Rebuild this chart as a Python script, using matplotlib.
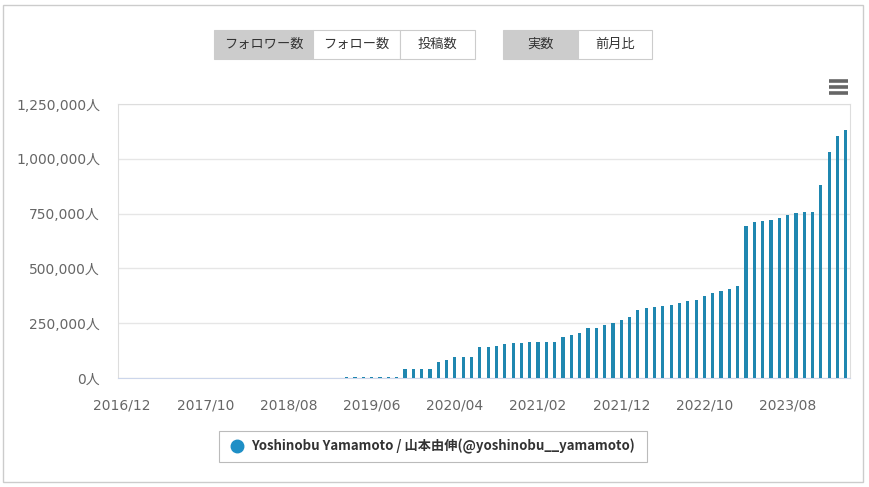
import matplotlib
matplotlib.use("Agg")
import matplotlib.pyplot as plt
from matplotlib.patches import Rectangle
from matplotlib.lines import Line2D
import numpy as np

plt.rcParams["font.family"] = ["Noto Sans CJK JP", "DejaVu Sans"]
TICK_FONT = ["DejaVu Sans", "Noto Sans CJK JP"]

# monthly follower counts, 2016/12 .. 2024/03
months = [f"{2016 + (11 + i) // 12}/{(11 + i) % 12 + 1:02d}" for i in range(88)]
followers = [
    0, 0, 0, 0, 0, 0, 0, 0, 0, 0, 0, 0, 0, 0, 0, 0,
    1000, 1000, 1000, 1500, 1500, 1500, 2000, 2000, 2000,
    2000, 2000, 2500, 2500, 2500, 2500, 3000, 3000, 3000,
    42000, 42000, 42000, 42000, 75000, 80000, 94000, 94000, 94000,
    141000, 141000, 146000, 154000, 158000, 158000, 162000, 162000,
    162000, 162000, 187000, 194000, 204000, 229000, 229000, 244000,
    249000, 265000, 280000, 308000, 319000, 324000, 329000, 335000,
    343000, 349000, 354000, 375000, 386000, 396000, 405000, 421000,
    693000, 711000, 716000, 721000, 731000, 742000, 751000, 757000,
    757000, 880000, 1032000, 1102000, 1132000,
]
yticks = [0, 250000, 500000, 750000, 1000000, 1250000]
series_label = "Yoshinobu Yamamoto / 山本由伸(@yoshinobu__yamamoto)"
group1 = ["フォロワー数", "フォロー数", "投稿数"]
group2 = ["実数", "前月比"]

W, H = 870, 487
fig = plt.figure(figsize=(W / 100, H / 100), dpi=100)
ax = fig.add_axes([118 / W, 1 - 378 / H, (850 - 118) / W, (378 - 104) / H])

x = np.arange(len(months))
ax.bar(x, followers, width=0.38, color="#1f87b0", zorder=3)
ax.set_xlim(-0.5, len(months) - 0.5)
ax.set_ylim(0, 1250000)
ax.set_yticks(yticks)
ax.set_yticklabels([f"{v:,}人" for v in yticks], color="#666666", fontsize=10, family=TICK_FONT)
ax.set_xticks(x[::10])
ax.set_xticklabels(months[::10], color="#666666", fontsize=10, family=TICK_FONT)
ax.tick_params(axis="y", length=0, pad=13)
ax.tick_params(axis="x", length=0, pad=15)
ax.grid(axis="y", color="#e6e6e6", linewidth=1, zorder=0)
for s in ax.spines.values():
    s.set_color("#dddddd")
    s.set_linewidth(0.8)
ax.spines["bottom"].set_color("#ccd6eb")

# outer frame
fig.patches.append(Rectangle((3 / W, 5 / H), 860 / W, 477 / H, transform=fig.transFigure,
                             fill=False, edgecolor="#cccccc", linewidth=1))


def button_row(labels, x0, widths, y0=30, h=29):
    xs = x0
    for i, (lab, w) in enumerate(zip(labels, widths)):
        face = "#cccccc" if i == 0 else "white"
        fig.patches.append(Rectangle((xs / W, 1 - (y0 + h) / H), w / W, h / H,
                                     transform=fig.transFigure, facecolor=face,
                                     edgecolor="#cccccc", linewidth=0.8))
        fig.text((xs + w / 2) / W, 1 - (y0 + h / 2) / H, lab, ha="center", va="center",
                 fontsize=9.5, color="#333333")
        xs += w


button_row(group1, 214, [99, 87, 75])
button_row(group2, 503, [75, 74])

# context menu icon
for yy in (81, 87, 93):
    fig.lines.append(Line2D([829 / W, 848 / W], [1 - yy / H, 1 - yy / H], transform=fig.transFigure,
                            color="#666666", linewidth=2.6, solid_capstyle="butt"))

# legend box
fig.patches.append(Rectangle((219 / W, 1 - 462 / H), 428 / W, 31 / H, transform=fig.transFigure,
                             facecolor="white", edgecolor="#bbbbbb", linewidth=0.8))
fig.lines.append(Line2D([237 / W], [1 - 446 / H], transform=fig.transFigure, marker="o",
                        markersize=9, color="#1e8fc6", linestyle="none"))
fig.text(251 / W, 1 - 446 / H, series_label, ha="left", va="center", fontsize=9.5,
         color="#333333", fontweight="bold")

fig.savefig("out.png", dpi=100)
